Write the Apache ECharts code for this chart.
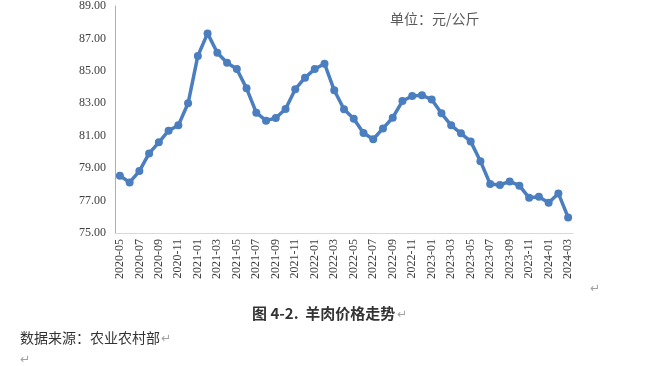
<!DOCTYPE html>
<html>
<head>
<meta charset="utf-8">
<script src="https://cdn.jsdelivr.net/npm/echarts@6/dist/echarts.min.js"></script>
<style>
html,body{margin:0;padding:0;background:#fff;}
#c{width:646px;height:366px;}
</style>
</head>
<body>
<div id="c"></div>
<script>
var months = ['2020-05','2020-06','2020-07','2020-08','2020-09','2020-10','2020-11','2020-12',
'2021-01','2021-02','2021-03','2021-04','2021-05','2021-06','2021-07','2021-08','2021-09','2021-10','2021-11','2021-12',
'2022-01','2022-02','2022-03','2022-04','2022-05','2022-06','2022-07','2022-08','2022-09','2022-10','2022-11','2022-12',
'2023-01','2023-02','2023-03','2023-04','2023-05','2023-06','2023-07','2023-08','2023-09','2023-10','2023-11','2023-12',
'2024-01','2024-02','2024-03'];
var prices = [78.53,78.12,78.82,79.91,80.59,81.31,81.64,83.00,
85.92,87.31,86.12,85.50,85.11,83.92,82.42,81.93,82.09,82.65,83.87,84.58,
85.11,85.44,83.80,82.63,82.05,81.17,80.78,81.45,82.11,83.14,83.45,83.49,
83.24,82.38,81.64,81.15,80.65,79.43,78.02,77.96,78.18,77.92,77.17,77.24,
76.87,77.44,75.96];
var yMin = 75, yMax = 89, yStep = 2;

var chart = echarts.init(document.getElementById('c'), null, {renderer:'canvas'});
chart.setOption({
  animation:false,
  backgroundColor:'#fff',
  grid:{left:115, right:73, top:6, bottom:133, containLabel:false},
  xAxis:{
    type:'category',
    data:months,
    boundaryGap:true,
    axisLine:{show:true, lineStyle:{color:'#D9D9D9', width:1}},
    axisTick:{show:false},
    axisLabel:{interval:1, rotate:90, color:'#404040', fontFamily:'Liberation Serif', fontSize:12, margin:6}
  },
  yAxis:{
    type:'value',
    min:yMin, max:yMax, interval:yStep,
    axisLine:{show:true, lineStyle:{color:'#8EB4E3', width:1}},
    axisTick:{show:false},
    splitLine:{show:false},
    axisLabel:{color:'#404040', fontFamily:'Liberation Serif', fontSize:12, margin:9,
      formatter:function(v){return v.toFixed(2);}}
  },
  series:[{
    type:'line',
    data:prices,
    symbol:'circle',
    symbolSize:8,
    showSymbol:true,
    showAllSymbol:true,
    lineStyle:{color:'#4A7EBF', width:3.5},
    itemStyle:{color:'#4A7EBF'}
  }],
  graphic:[
    {type:'text', left:390, top:12, style:{text:'单位：元/公斤', fill:'#595959', font:'14px "Noto Sans CJK SC"'}},
    {type:'text', left:590, top:283, style:{text:'↵', fill:'#A0A0A0', font:'12px "DejaVu Sans"'}},
    {type:'text', left:252, top:306, style:{text:'图 4-2.  羊肉价格走势', fill:'#333333', font:'bold 15px "Noto Sans CJK SC"'}},
    {type:'text', left:397, top:309, style:{text:'↵', fill:'#A0A0A0', font:'12px "DejaVu Sans"'}},
    {type:'text', left:20, top:331, style:{text:'数据来源：农业农村部', fill:'#333333', font:'14px "Noto Sans CJK SC"'}},
    {type:'text', left:161, top:333, style:{text:'↵', fill:'#A0A0A0', font:'12px "DejaVu Sans"'}},
    {type:'text', left:20, top:354, style:{text:'↵', fill:'#A0A0A0', font:'12px "DejaVu Sans"'}}
  ]
});
</script>
</body>
</html>
